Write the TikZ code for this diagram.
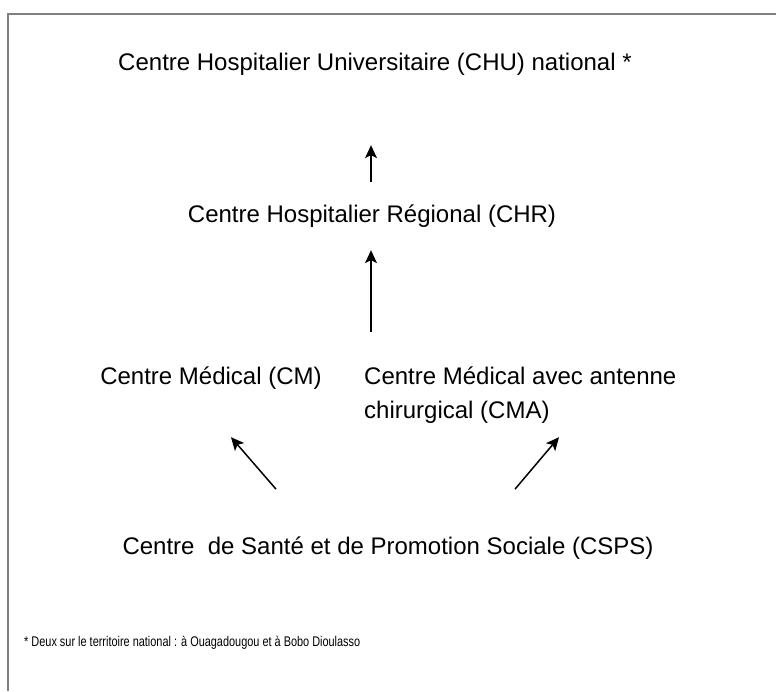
\documentclass[tikz,border=0pt]{standalone}
\usepackage{fontspec}
\usepackage{graphicx}
\setmainfont{Liberation Sans}
\usetikzlibrary{arrows.meta,calc}
\tikzset{
    level/.style={inner sep=0pt,anchor=base,font=\fontsize{24}{34}\selectfont},
    note/.style={inner sep=0pt,anchor=base west,font=\fontsize{14}{16}\selectfont},
    arrow/.style={-{Stealth[length=13pt,width=12pt,inset=3pt]},line width=1.5pt},
    frame/.style={draw=black!50,line width=1.5pt}
}
\begin{document}
\begin{tikzpicture}[x=1pt,y=-1pt]
    \useasboundingbox (0,0) rectangle (776,691);
    \draw[frame] (776,14) -- (8,14) -- (8,691);
    \node[level] (chu) at (375,70.5) {Centre Hospitalier Universitaire (CHU) national *};
    \node[level] (chr) at (372,222) {Centre Hospitalier Régional (CHR)};
    \node[level] (cm) at (211,384) {Centre Médical (CM)};
    \node[level,anchor=base west,align=left] (cma) at (364,418) {Centre Médical avec antenne\\chirurgical (CMA)};
    \node[level] (csps) at (388,554) {Centre\ \ de Santé et de Promotion Sociale (CSPS)};
    \node[note] (foot) at (24,646) {\scalebox{0.78}[1]{* Deux sur le territoire national : à Ouagadougou et à Bobo Dioulasso}};
    \draw[arrow] ([xshift=-1pt,yshift=22pt]chr.north) -- ([xshift=-4pt,yshift=-69.5pt]chu.south);
    \draw[arrow] ($(cm.north -| chr.south)+(-1,-34)$) -- ([xshift=-1pt,yshift=-23pt]chr.south);
    \draw[arrow] ([xshift=-112pt,yshift=47pt]csps.north) -- ([xshift=20pt,yshift=-48pt]cm.south);
    \draw[arrow] ([xshift=127pt,yshift=47pt]csps.north) -- ([xshift=195pt,yshift=-14pt]cma.south west);
\end{tikzpicture}
\end{document}
